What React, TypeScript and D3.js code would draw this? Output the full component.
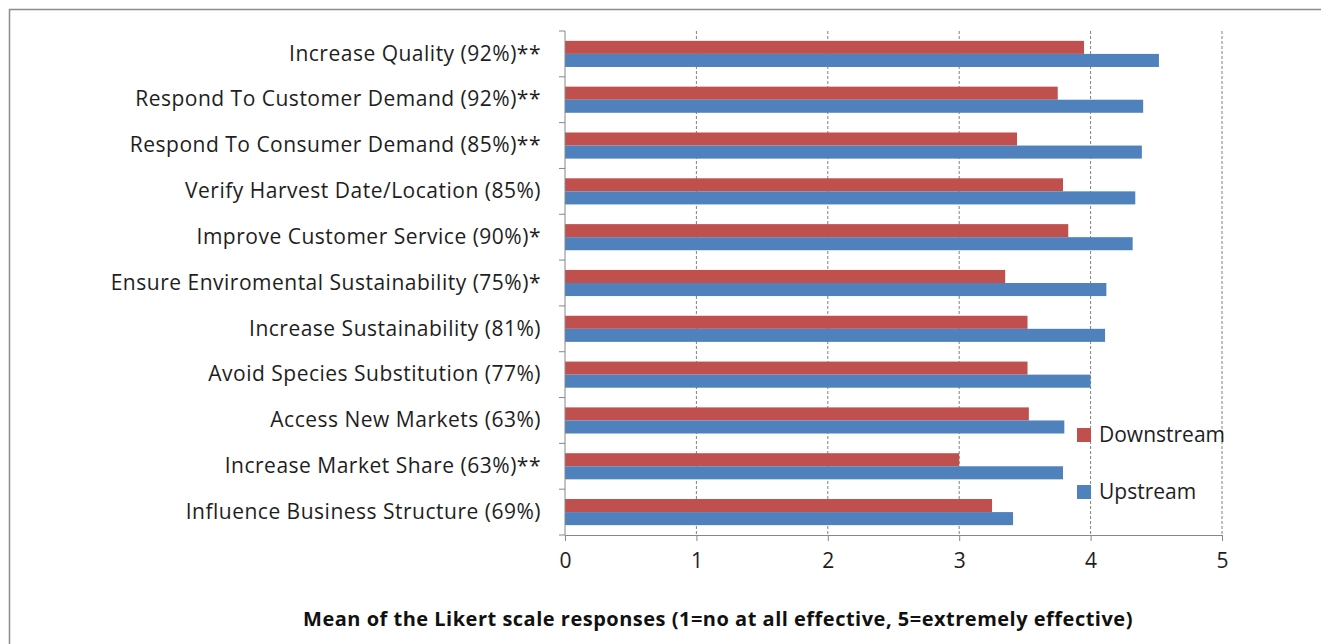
import React, { useRef, useEffect } from 'react';
import * as d3 from 'd3';

const categories = [
  'Increase Quality (92%)**',
  'Respond To Customer Demand (92%)**',
  'Respond To Consumer Demand (85%)**',
  'Verify Harvest Date/Location (85%)',
  'Improve Customer Service (90%)*',
  'Ensure Enviromental Sustainability (75%)*',
  'Increase Sustainability (81%)',
  'Avoid Species Substitution (77%)',
  'Access New Markets (63%)',
  'Increase Market Share (63%)**',
  'Influence Business Structure (69%)',
];
const downstream = [3.95, 3.75, 3.44, 3.79, 3.83, 3.35, 3.52, 3.52, 3.53, 3.0, 3.25];
const upstream = [4.52, 4.4, 4.39, 4.34, 4.32, 4.12, 4.11, 4.0, 3.8, 3.79, 3.41];
const seriesNames = ['Downstream', 'Upstream'];
const seriesColors = ['#C0504D', '#4F81BD'];
const xTicks = [0, 1, 2, 3, 4, 5];
const axisTitle = 'Mean of the Likert scale responses (1=no at all effective, 5=extremely effective)';

const FONT = '"Open Sans", "Noto Sans", sans-serif';

const App: React.FC = () => {
  const svgRef = useRef<SVGSVGElement>(null);

  useEffect(() => {
    if (!svgRef.current) return;
    const svg = d3.select(svgRef.current);
    svg.selectAll('*').remove();

    const W = 1321, H = 644;
    const left = 565, right = 1222, top = 31, bottom = 535;

    // frame (right/bottom edges are cut off in the picture)
    svg.append('path')
      .attr('d', `M9.5,${H} V9.5 H${W}`)
      .attr('fill', 'none')
      .attr('stroke', '#8c8c8c')
      .attr('stroke-width', 1.5);

    const x = d3.scaleLinear().domain([0, 5]).range([left, right]);
    const y = d3.scaleBand()
      .domain(categories)
      .range([top, bottom])
      .paddingInner(0.43)
      .paddingOuter(0.215);
    const ySub = d3.scaleBand().domain(seriesNames).range([0, y.bandwidth()]);

    // dashed gridlines
    svg.append('g')
      .selectAll('line')
      .data(xTicks.slice(1))
      .enter()
      .append('line')
      .attr('x1', d => x(d))
      .attr('x2', d => x(d))
      .attr('y1', top)
      .attr('y2', bottom)
      .attr('stroke', '#808080')
      .attr('stroke-dasharray', '3,2');

    // bars
    const rows = categories.map((c, i) => ({ c, vals: [downstream[i], upstream[i]] }));
    const groups = svg.append('g')
      .selectAll('g')
      .data(rows)
      .enter()
      .append('g')
      .attr('transform', d => `translate(0,${y(d.c)})`);
    groups.selectAll('rect')
      .data(d => d.vals.map((v, k) => ({ v, k })))
      .enter()
      .append('rect')
      .attr('x', x(0))
      .attr('y', d => ySub(seriesNames[d.k])!)
      .attr('width', d => x(d.v) - x(0))
      .attr('height', ySub.bandwidth())
      .attr('fill', d => seriesColors[d.k]);

    // y axis
    const yAxis = d3.axisLeft(y).tickSize(0).tickPadding(24).tickSizeOuter(0);
    const gy = svg.append('g').attr('transform', `translate(${left},0)`).call(yAxis);
    gy.select('.domain').remove();
    gy.selectAll('text')
      .attr('font-family', FONT)
      .attr('font-size', 21)
      .attr('letter-spacing', 0.5)
      .attr('fill', '#1e1e1e');
    svg.append('line')
      .attr('x1', left).attr('x2', left)
      .attr('y1', top).attr('y2', bottom)
      .attr('stroke', '#868686');
    const bounds = d3.range(categories.length + 1).map(i => top + i * y.step());
    svg.append('g')
      .selectAll('line')
      .data(bounds)
      .enter()
      .append('line')
      .attr('x1', left - 6).attr('x2', left)
      .attr('y1', d => d).attr('y2', d => d)
      .attr('stroke', '#868686');

    // x axis
    const xAxis = d3.axisBottom(x)
      .tickValues(xTicks)
      .tickFormat(d3.format('d'))
      .tickSize(6)
      .tickPadding(12)
      .tickSizeOuter(0);
    const gx = svg.append('g').attr('transform', `translate(0,${bottom})`).call(xAxis);
    gx.select('.domain').attr('stroke', '#868686');
    gx.selectAll('line').attr('stroke', '#868686');
    gx.selectAll('text')
      .attr('font-family', FONT)
      .attr('font-size', 21)
      .attr('fill', '#1e1e1e');

    // axis title
    svg.append('text')
      .attr('x', 718)
      .attr('y', 626)
      .attr('text-anchor', 'middle')
      .attr('font-family', FONT)
      .attr('font-weight', 'bold')
      .attr('font-size', 20)
      .attr('letter-spacing', 0.5)
      .attr('fill', '#111')
      .text(axisTitle);

    // legend
    const lg = svg.append('g').attr('transform', 'translate(1077,428)');
    seriesNames.forEach((s, i) => {
      lg.append('rect')
        .attr('x', 0).attr('y', i * 57)
        .attr('width', 14).attr('height', 14)
        .attr('fill', seriesColors[i]);
      lg.append('text')
        .attr('x', 22).attr('y', i * 57 + 14)
        .attr('font-family', FONT)
        .attr('font-size', 21)
        .attr('fill', '#1e1e1e')
        .text(s);
    });
  }, []);

  return (
    <svg
      ref={svgRef}
      width={1321}
      height={644}
      style={{ position: 'absolute', left: 0, top: 0, background: '#fff' }}
    />
  );
};

export default App;
